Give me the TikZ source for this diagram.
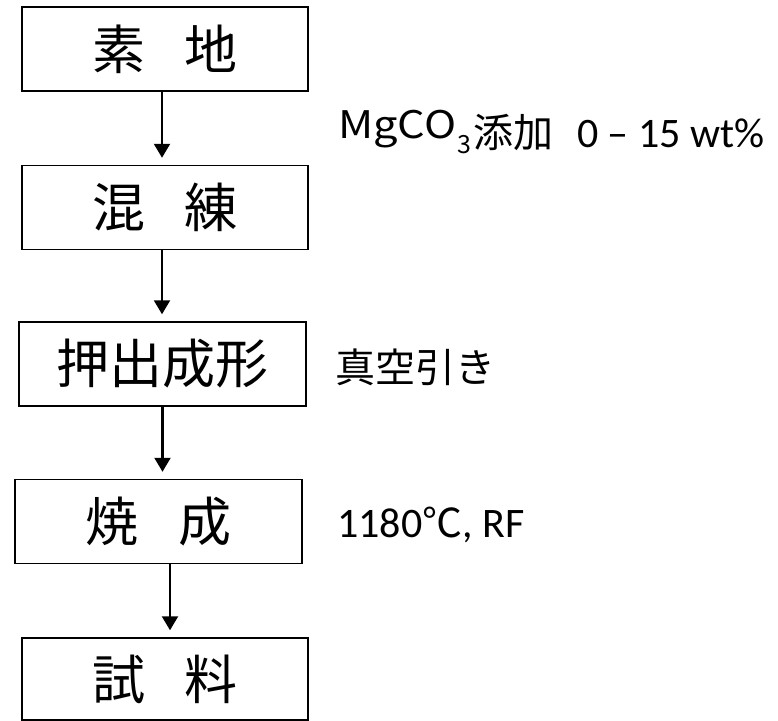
\documentclass[tikz,border=0pt]{standalone}
\usepackage{fontspec}
\setmainfont{Carlito}
\newfontfamily\jp{Noto Sans CJK JP}
\usetikzlibrary{arrows.meta}
\begin{document}
\begin{tikzpicture}[x=1pt,y=-1pt,
  stepbox/.style={draw,line width=1.5pt,minimum height=84pt,inner sep=0pt,
    font=\jp\fontsize{53}{53}\selectfont},
  arr/.style={line width=2.2pt,shorten >=7pt,-{Triangle[width=16pt,length=14pt]}},
  note/.style={anchor=base west,inner sep=0pt}]
\useasboundingbox (0,0) rectangle (778,720);
\fill[white] (0,0) rectangle (778,720);
\node[stepbox,minimum width=286pt] (b1) at (165,49) {素\hspace{40pt}地};
\node[stepbox,minimum width=286pt] (b2) at (165,207.5) {混\hspace{40pt}練};
\node[stepbox,minimum width=287pt] (b3) at (162.5,364) {押出成形};
\node[stepbox,minimum width=287pt] (b4) at (158.5,521.5) {焼\hspace{40pt}成};
\node[stepbox,minimum width=286pt,minimum height=82pt] (b5) at (165,679) {試\hspace{40pt}料};
\draw[arr] ([xshift=-3pt]b1.south) -- ([xshift=-3pt]b1.south |- b2.north);
\draw[arr] ([xshift=-3pt]b2.south) -- ([xshift=-3pt]b2.south |- b3.north);
\draw[arr] (b3.south) -- (b3.south |- b4.north);
\draw[arr] ([xshift=11.5pt]b4.south) -- ([xshift=11.5pt]b4.south |- b5.north);
\node[note] (t1) at (338,147) {\raisebox{9pt}{\jp\fontsize{38}{38}\selectfont\scalebox{1.14}[1]{MgCO}}\hspace{1.5pt}\raisebox{-6pt}{\jp\fontsize{25}{25}\selectfont 3}\hspace{1.5pt}{\jp\fontsize{40}{40}\selectfont 添加}\hspace{24pt}{\fontsize{42}{42}\selectfont 0 – 15 wt\%}};
\node[note] (t2) at (335,382) {\jp\fontsize{40}{40}\selectfont 真空引き};
\node[note] (t3) at (337,537) {\fontsize{42}{42}\selectfont 1180{\jp\fontsize{40}{40}\selectfont ℃}, RF};
\end{tikzpicture}
\end{document}
